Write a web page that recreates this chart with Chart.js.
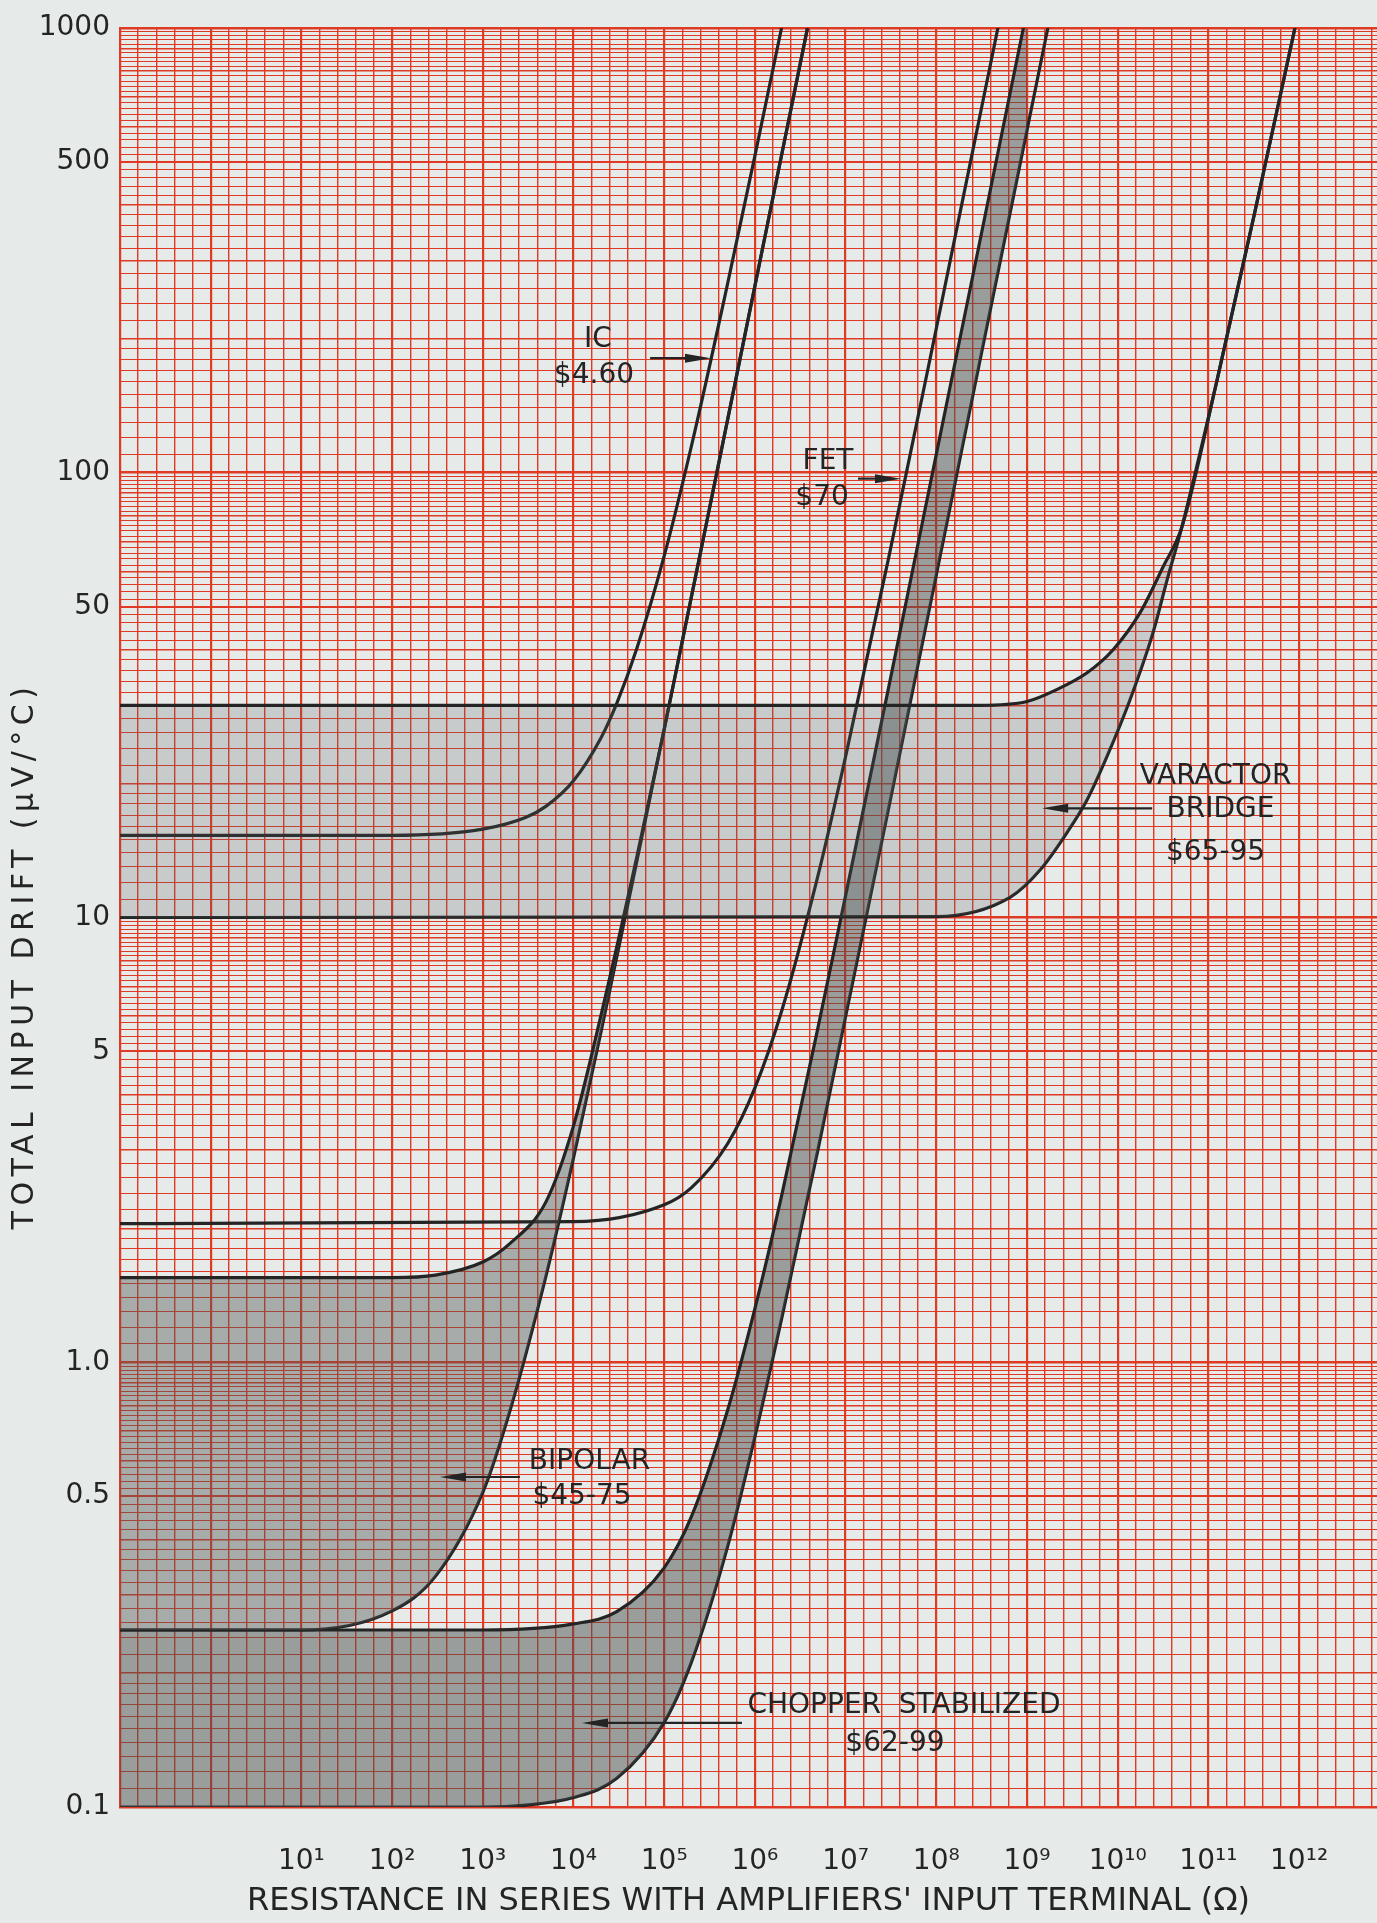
<!DOCTYPE html>
<html lang="en">
<head>
  <meta charset="UTF-8">
  <title>Total input drift vs. source resistance</title>
  <script src="https://cdn.jsdelivr.net/npm/chart.js"></script>
  <style>
    body {
      margin: 0;
      background-color: #e6eae9; /* paper */
    }
    #wrap {
      width: 1377px;
      height: 1923px;
    }
  </style>
</head>
<body>
  <div id="wrap">
    <canvas id="driftChart" width="1377" height="1923"></canvas>
  </div>

  <script>
    // values: resistance in ohms, drift in uV/degC
    var icOhms = [1e-1, 1e2, 1e3, 3e3, 5e3, 1e4, 2e4, 3e4, 5e4, 1e5, 2e5, 5e5, 1e6, 2e6];
    var icDrift = [15.3, 15.3, 15.8, 16.8, 17.8, 20.3, 25.3, 30.3, 40.3, 65, 115, 266, 516, 1017];

    var bipolarHiOhms = [1e-1, 1e2, 3e2, 1e3, 2e3, 5e3, 1e4, 2e4, 5e4, 1e5, 3e5, 1e6, 4e6];
    var bipolarHiDrift = [1.55, 1.55, 1.57, 1.68, 1.85, 2.3, 3.4, 6.0, 13.7, 26.5, 79, 263, 1052];
    var bipolarLoOhms = [1e-1, 1e1, 1e2, 3e2, 1e3, 2e3, 5e3, 1e4, 2e4, 5e4, 1e5, 3e5, 1e6, 4e6];
    var bipolarLoDrift = [0.25, 0.25, 0.276, 0.33, 0.51, 0.78, 1.57, 2.88, 5.5, 13.4, 26.5, 79, 263, 1052];

    var fetOhms = [1e-1, 1e4, 1e5, 2e5, 5e5, 1e6, 2e6, 5e6, 1e7, 3e7, 1e8, 3e8, 5e8];
    var fetDrift = [2.05, 2.07, 2.26, 2.47, 3.1, 4.14, 6.22, 12.5, 23, 64.7, 211, 629, 1047];

    var chopperHiOhms = [1e-1, 1e3, 1e4, 3e4, 1e5, 2e5, 5e5, 1e6, 2e6, 5e6, 1e7, 3e7, 1e8, 3e8, 1e9];
    var chopperHiDrift = [0.25, 0.25, 0.258, 0.275, 0.345, 0.45, 0.78, 1.32, 2.4, 5.7, 11.2, 33.1, 110, 329, 1096];
    var chopperLoOhms = [1e-1, 1e3, 3e3, 1e4, 3e4, 1e5, 2e5, 5e5, 1e6, 2e6, 5e6, 1e7, 3e7, 1e8, 3e8, 1e9, 2e9];
    var chopperLoDrift = [0.1, 0.1, 0.101, 0.105, 0.116, 0.155, 0.212, 0.385, 0.68, 1.27, 3.03, 5.99, 17.7, 58.9, 177, 589, 1178];

    var varactorHiOhms = [1e-1, 3e8, 1e9, 2.1e9, 4.6e9, 8.9e9, 1.76e10, 3.16e10, 5.1e10, 1.25e11, 3.2e11, 9e11];
    var varactorHiDrift = [30, 30, 30.6, 32.5, 35.5, 40, 48.4, 61.4, 75.5, 162, 380, 1000];
    var varactorLoOhms = [1e-1, 1e8, 6.5e8, 1.4e9, 2.75e9, 4.6e9, 7.6e9, 1.36e10, 2.45e10, 3.5e10, 5.1e10, 1.25e11, 3.2e11, 9e11];
    var varactorLoDrift = [10, 10.05, 11.1, 12.8, 15.5, 18.4, 23, 30.8, 43.7, 57.4, 75.5, 162, 380, 1000];

    // axis labels
    var yTickValues = [0.1, 0.5, 1, 5, 10, 50, 100, 500, 1000];
    var yTickText = ['0.1', '0.5', '1.0', '5', '10', '50', '100', '500', '1000'];
    var xTickExp = [1, 2, 3, 4, 5, 6, 7, 8, 9, 10, 11, 12];
    var xTickText = ['10¹', '10²', '10³', '10⁴', '10⁵', '10⁶', '10⁷', '10⁸', '10⁹', '10¹⁰', '10¹¹', '10¹²'];
    var yTitle = 'TOTAL INPUT DRIFT (μV/°C)';
    var xTitle = "RESISTANCE IN SERIES WITH AMPLIFIERS' INPUT TERMINAL (Ω)";

    var X_MIN = 0.1;
    var X_MAX = Math.pow(10, 12.859);
    var RED = '#e03a24';
    var INK = '#242424';
    var FONT = '"DejaVu Sans", sans-serif';

    function pts(xs, ys) {
      return xs.map(function (x, i) { return { x: x, y: ys[i] }; });
    }

    function mantissa(v) {
      var l = Math.log10(v);
      return Math.pow(10, l - Math.floor(l + 1e-9));
    }

    // log paper rulings: 0.1 steps from 1 to 2, 0.2 steps from 2 to 10
    function yPaperLines() {
      var lines = [];
      for (var d = -1; d < 3; d++) {
        var base = Math.pow(10, d);
        for (var m = 10; m < 20; m++) lines.push(m / 10 * base);
        for (m = 20; m < 100; m += 2) lines.push(m / 10 * base);
      }
      lines.push(1000);
      return lines;
    }

    // horizontal axis paper: 5 even divisions per decade
    function xPaperLines() {
      var lines = [];
      var k0 = Math.round(Math.log10(X_MIN) * 5);
      for (var k = k0; k / 5 <= Math.log10(X_MAX) + 1e-9; k++) lines.push(Math.pow(10, k / 5));
      return lines;
    }

    function sameValue(a, b) {
      return Math.abs(Math.log10(a) - Math.log10(b)) < 1e-6;
    }

    function curve(label, xs, ys, fill, fillColor) {
      return {
        label: label,
        data: pts(xs, ys),
        borderColor: INK,
        borderWidth: 3.2,
        pointRadius: 0,
        cubicInterpolationMode: 'monotone',
        fill: fill,
        backgroundColor: fillColor
      };
    }

    // callouts, anchored in data units
    var notes = [
      { text: ['IC', '$4.60'], at: [[1.86e4, 199], [1.68e4, 165]], arrow: [[7e4, 181], [3.28e5, 181]] },
      { text: ['FET', '$70'], at: [[6.4e6, 106], [5.5e6, 88]], arrow: [[1.37e7, 97], [4.08e7, 97]] },
      { text: ['VARACTOR', 'BRIDGE', '$65-95'], at: [[1.2e11, 20.7], [1.36e11, 17.5], [1.2e11, 14.0]], arrow: [[2.4e10, 17.6], [1.47e9, 17.6]] },
      { text: ['BIPOLAR', '$45-75'], at: [[1.5e4, 0.597], [1.24e4, 0.498]], arrow: [[2.57e3, 0.552], [337, 0.552]] },
      { text: ['CHOPPER  STABILIZED', '$62-99'], at: [[4.4e7, 0.1687], [3.5e7, 0.139]], arrow: [[7.2e5, 0.1545], [1.24e4, 0.1545]] }
    ];

    function drawArrow(ctx, x1, y1, x2, y2) {
      var a = Math.atan2(y2 - y1, x2 - x1);
      var len = 26, half = 4.5;
      ctx.beginPath();
      ctx.moveTo(x1, y1);
      ctx.lineTo(x2 - Math.cos(a) * len * 0.5, y2 - Math.sin(a) * len * 0.5);
      ctx.stroke();
      ctx.beginPath();
      ctx.moveTo(x2, y2);
      ctx.lineTo(x2 - len * Math.cos(a) + half * Math.sin(a), y2 - len * Math.sin(a) - half * Math.cos(a));
      ctx.lineTo(x2 - len * Math.cos(a) - half * Math.sin(a), y2 - len * Math.sin(a) + half * Math.cos(a));
      ctx.closePath();
      ctx.fill();
    }

    var calloutPlugin = {
      id: 'callouts',
      afterDatasetsDraw: function (chart) {
        var ctx = chart.ctx, xs = chart.scales.x, ys = chart.scales.y;
        ctx.save();
        ctx.fillStyle = INK;
        ctx.strokeStyle = INK;
        ctx.lineWidth = 2.2;
        ctx.font = '28px ' + FONT;
        ctx.textAlign = 'center';
        ctx.textBaseline = 'middle';
        notes.forEach(function (n) {
          n.text.forEach(function (t, i) {
            ctx.fillText(t, xs.getPixelForValue(n.at[i][0]), ys.getPixelForValue(n.at[i][1]));
          });
          drawArrow(ctx,
            xs.getPixelForValue(n.arrow[0][0]), ys.getPixelForValue(n.arrow[0][1]),
            xs.getPixelForValue(n.arrow[1][0]), ys.getPixelForValue(n.arrow[1][1]));
        });
        ctx.restore();
      },
      afterDraw: function (chart) {
        // vertical axis title, letter-spaced like the lettering on the sheet
        var ctx = chart.ctx, area = chart.chartArea;
        ctx.save();
        ctx.translate(area.left - 95, (area.top + area.bottom) / 2 + 38);
        ctx.rotate(-Math.PI / 2);
        ctx.fillStyle = INK;
        ctx.font = '30px ' + FONT;
        if ('letterSpacing' in ctx) ctx.letterSpacing = '5.5px';
        ctx.textAlign = 'center';
        ctx.textBaseline = 'middle';
        ctx.fillText(yTitle, 0, 0);
        ctx.restore();
      }
    };

    var ctx = document.getElementById('driftChart').getContext('2d');

    var driftChart = new Chart(ctx, {
      type: 'line',
      data: {
        datasets: [
          curve('Varactor bridge (high)', varactorHiOhms, varactorHiDrift, '+1', 'rgba(90, 95, 95, 0.22)'),
          curve('Varactor bridge (low)', varactorLoOhms, varactorLoDrift, false),
          curve('Bipolar (high)', bipolarHiOhms, bipolarHiDrift, '+1', 'rgba(80, 85, 85, 0.42)'),
          curve('Bipolar (low)', bipolarLoOhms, bipolarLoDrift, false),
          curve('Chopper stabilized (high)', chopperHiOhms, chopperHiDrift, '+1', 'rgba(70, 75, 75, 0.48)'),
          curve('Chopper stabilized (low)', chopperLoOhms, chopperLoDrift, false),
          curve('IC', icOhms, icDrift, false),
          curve('FET', fetOhms, fetDrift, false)
        ]
      },
      options: {
        responsive: false,
        animation: false,
        events: [],
        layout: { padding: { top: 28, left: 0, right: 0, bottom: 0 } },
        plugins: {
          legend: { display: false },
          tooltip: { enabled: false }
        },
        scales: {
          x: {
            type: 'logarithmic',
            position: 'bottom',
            min: X_MIN,
            max: X_MAX,
            afterFit: function (scale) {
              scale.height = 116;
              scale.paddingLeft = 0;
              scale.paddingRight = 0;
            },
            afterBuildTicks: function (scale) {
              scale.ticks = xPaperLines().map(function (v) { return { value: v }; });
            },
            ticks: {
              autoSkip: false,
              maxRotation: 0,
              minRotation: 0,
              padding: 38,
              color: INK,
              font: { family: FONT, size: 28 },
              callback: function (value) {
                var e = Math.log10(value), r = Math.round(e);
                if (Math.abs(e - r) > 1e-6) return '';
                var i = xTickExp.indexOf(r);
                return i >= 0 ? xTickText[i] : '';
              }
            },
            grid: {
              drawTicks: false,
              color: RED,
              lineWidth: function (c) {
                if (!c.tick) return 1;
                var e = Math.log10(c.tick.value);
                return Math.abs(e - Math.round(e)) < 1e-6 ? 2.2 : 1.4;
              }
            },
            border: { display: true, color: RED, width: 2 },
            title: {
              display: true,
              text: xTitle,
              color: INK,
              font: { family: FONT, size: 32 },
              padding: { top: 0, bottom: 2 }
            }
          },
          y: {
            type: 'logarithmic',
            min: 0.1,
            max: 1000,
            afterFit: function (scale) { scale.width = 120; },
            afterBuildTicks: function (scale) {
              scale.ticks = yPaperLines().map(function (v) { return { value: v }; });
            },
            ticks: {
              autoSkip: false,
              padding: 10,
              color: INK,
              font: { family: FONT, size: 28 },
              callback: function (value) {
                for (var i = 0; i < yTickValues.length; i++) {
                  if (sameValue(value, yTickValues[i])) return yTickText[i];
                }
                return '';
              }
            },
            grid: {
              drawTicks: false,
              color: RED,
              lineWidth: function (c) {
                if (!c.tick) return 1;
                var m = mantissa(c.tick.value);
                if (Math.abs(m - 1) < 1e-6 || Math.abs(m - 10) < 1e-6) return 2.6;
                if (Math.abs(m - 5) < 1e-6) return 2;
                if (Math.abs(m - Math.round(m)) < 1e-6) return 1.4;
                return 1;
              }
            },
            border: { display: true, color: RED, width: 2 },
            title: { display: false }
          }
        }
      },
      plugins: [calloutPlugin]
    });
  </script>
</body>
</html>
